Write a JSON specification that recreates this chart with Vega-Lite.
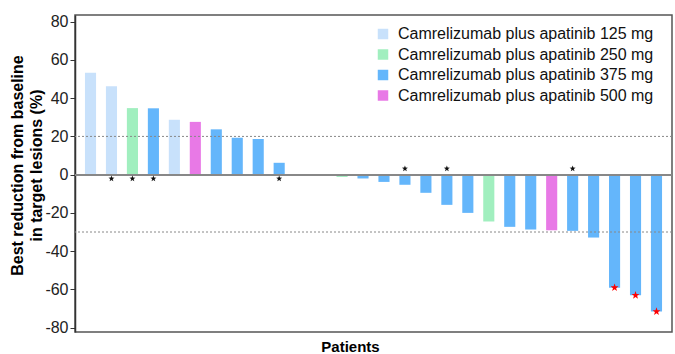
{
  "$schema": "https://vega.github.io/schema/vega-lite/v6.json",
  "width": 597,
  "height": 317,
  "autosize": {"type": "none"},
  "padding": {"left": 75, "top": 15, "right": 3, "bottom": 22},
  "background": "white",
  "config": {
    "font": "Liberation Sans",
    "view": {"stroke": "#555555", "strokeWidth": 1.5},
    "axis": {"labelFont": "Liberation Sans", "titleFont": "Liberation Sans"},
    "axisY": {
      "labelExpr": "replace(datum.label, '−', '-')",
      "labelOverlap": false,
      "tickCount": 9,
      "grid": false,
      "labelFontSize": 16,
      "labelColor": "#222222",
      "labelPadding": 2,
      "ticks": true,
      "tickSize": 5,
      "tickColor": "#333333",
      "domainColor": "#333333",
      "domainWidth": 1.5,
      "titleFontSize": 16,
      "titleFontWeight": "bold",
      "titleColor": "#000000",
      "titleLineHeight": 19,
      "titleX": -58,
      "titleY": 150,
      "titleAngle": -90,
      "titleAlign": "center",
      "titleBaseline": "middle"
    }
  },
  "data": {
    "values": [
      {"patient": 1, "value": 53.3, "group": "Camrelizumab plus apatinib 125 mg", "flag": ""},
      {"patient": 2, "value": 46.2, "group": "Camrelizumab plus apatinib 125 mg", "flag": "below"},
      {"patient": 3, "value": 34.8, "group": "Camrelizumab plus apatinib 250 mg", "flag": "below"},
      {"patient": 4, "value": 34.7, "group": "Camrelizumab plus apatinib 375 mg", "flag": "below"},
      {"patient": 5, "value": 28.7, "group": "Camrelizumab plus apatinib 125 mg", "flag": ""},
      {"patient": 6, "value": 27.6, "group": "Camrelizumab plus apatinib 500 mg", "flag": ""},
      {"patient": 7, "value": 23.7, "group": "Camrelizumab plus apatinib 375 mg", "flag": ""},
      {"patient": 8, "value": 19.3, "group": "Camrelizumab plus apatinib 375 mg", "flag": ""},
      {"patient": 9, "value": 18.7, "group": "Camrelizumab plus apatinib 375 mg", "flag": ""},
      {"patient": 10, "value": 6.2, "group": "Camrelizumab plus apatinib 375 mg", "flag": "below"},
      {"patient": 11, "value": 0, "group": "Camrelizumab plus apatinib 375 mg", "flag": ""},
      {"patient": 12, "value": -0.3, "group": "Camrelizumab plus apatinib 500 mg", "flag": ""},
      {"patient": 13, "value": -1.2, "group": "Camrelizumab plus apatinib 250 mg", "flag": ""},
      {"patient": 14, "value": -2.0, "group": "Camrelizumab plus apatinib 375 mg", "flag": ""},
      {"patient": 15, "value": -3.8, "group": "Camrelizumab plus apatinib 375 mg", "flag": ""},
      {"patient": 16, "value": -5.3, "group": "Camrelizumab plus apatinib 375 mg", "flag": "above"},
      {"patient": 17, "value": -9.5, "group": "Camrelizumab plus apatinib 375 mg", "flag": ""},
      {"patient": 18, "value": -15.8, "group": "Camrelizumab plus apatinib 375 mg", "flag": "above"},
      {"patient": 19, "value": -20.0, "group": "Camrelizumab plus apatinib 375 mg", "flag": ""},
      {"patient": 20, "value": -24.5, "group": "Camrelizumab plus apatinib 250 mg", "flag": ""},
      {"patient": 21, "value": -27.3, "group": "Camrelizumab plus apatinib 375 mg", "flag": ""},
      {"patient": 22, "value": -28.7, "group": "Camrelizumab plus apatinib 375 mg", "flag": ""},
      {"patient": 23, "value": -29.1, "group": "Camrelizumab plus apatinib 500 mg", "flag": ""},
      {"patient": 24, "value": -29.4, "group": "Camrelizumab plus apatinib 375 mg", "flag": "above"},
      {"patient": 25, "value": -32.9, "group": "Camrelizumab plus apatinib 375 mg", "flag": ""},
      {"patient": 26, "value": -59.1, "group": "Camrelizumab plus apatinib 375 mg", "flag": "red"},
      {"patient": 27, "value": -63.1, "group": "Camrelizumab plus apatinib 375 mg", "flag": "red"},
      {"patient": 28, "value": -71.6, "group": "Camrelizumab plus apatinib 375 mg", "flag": "red"}
    ]
  },
  "encoding": {
    "x": {
      "field": "patient",
      "type": "ordinal",
      "scale": {"paddingInner": 0.47, "paddingOuter": 0.475},
      "axis": {
        "orient": "bottom",
        "labels": false,
        "ticks": false,
        "domain": false,
        "title": "Patients",
        "titleFontSize": 15,
        "titleFontWeight": "bold",
        "titleColor": "#000000",
        "titleX": 275,
        "titleY": 14,
        "titleAlign": "center",
        "titleBaseline": "middle"
      }
    },
    "y": {
      "field": "value",
      "type": "quantitative",
      "scale": {"domain": [-82.3, 83.5], "nice": false, "zero": false},
      "title": ["Best reduction from baseline", "in target lesions (%)"]
    }
  },
  "layer": [
    {
      "mark": {"type": "bar"},
      "encoding": {
        "color": {
          "field": "group",
          "type": "nominal",
          "scale": {
            "domain": [
              "Camrelizumab plus apatinib 125 mg",
              "Camrelizumab plus apatinib 250 mg",
              "Camrelizumab plus apatinib 375 mg",
              "Camrelizumab plus apatinib 500 mg"
            ],
            "range": ["#c8e1fb", "#a1efbf", "#64b6fb", "#e879e6"]
          },
          "legend": {
            "title": null,
            "orient": "none",
            "legendX": 300,
            "legendY": 11,
            "symbolType": "square",
            "symbolSize": 110,
            "symbolStrokeWidth": 0,
            "labelFontSize": 16,
            "labelColor": "#111111",
            "labelOffset": 7,
            "labelLimit": 0,
            "rowPadding": 4.5
          }
        }
      }
    },
    {
      "mark": {"type": "rule", "color": "#888888", "strokeWidth": 1.5},
      "encoding": {"x": null, "y": {"datum": 0}}
    },
    {
      "data": {"values": [{"value": 20}, {"value": -30}]},
      "mark": {"type": "rule", "color": "#888888", "strokeWidth": 1, "strokeDash": [2, 2]},
      "encoding": {"x": null}
    },
    {
      "transform": [{"filter": "datum.flag === 'below'"}],
      "mark": {"type": "point", "shape": "M0,-1L0.235,-0.324L0.951,-0.309L0.38,0.124L0.588,0.809L0,0.4L-0.588,0.809L-0.38,0.124L-0.951,-0.309L-0.235,-0.324Z", "filled": true, "color": "#111111", "size": 40, "yOffset": 4, "opacity": 1},
      "encoding": {"y": {"datum": 0}}
    },
    {
      "transform": [{"filter": "datum.flag === 'above'"}],
      "mark": {"type": "point", "shape": "M0,-1L0.235,-0.324L0.951,-0.309L0.38,0.124L0.588,0.809L0,0.4L-0.588,0.809L-0.38,0.124L-0.951,-0.309L-0.235,-0.324Z", "filled": true, "color": "#111111", "size": 40, "yOffset": -6, "opacity": 1},
      "encoding": {"y": {"datum": 0}}
    },
    {
      "transform": [{"filter": "datum.flag === 'red'"}],
      "mark": {"type": "point", "shape": "M0,-1L0.235,-0.324L0.951,-0.309L0.38,0.124L0.588,0.809L0,0.4L-0.588,0.809L-0.38,0.124L-0.951,-0.309L-0.235,-0.324Z", "filled": true, "color": "#ff0000", "size": 70, "opacity": 1},
      "encoding": {}
    }
  ]
}
